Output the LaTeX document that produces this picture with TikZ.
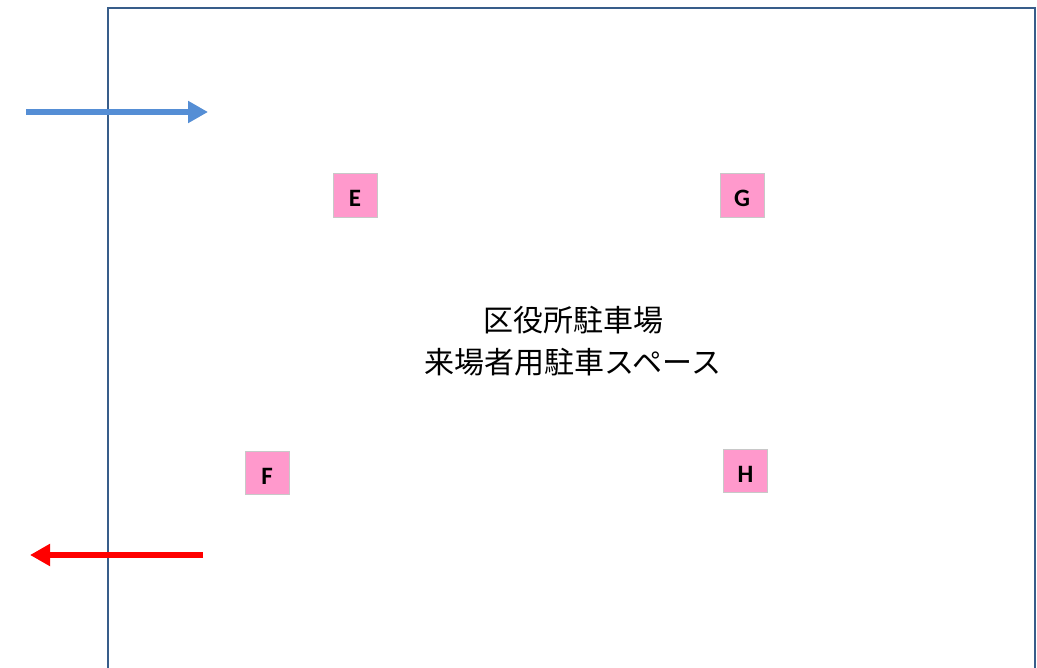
\documentclass[tikz,border=0pt]{standalone}
\usepackage{fontspec}
\setmainfont{Carlito}
\newfontfamily\cjk{Noto Sans CJK JP}
\usetikzlibrary{arrows.meta}
\definecolor{frameblue}{RGB}{56,93,138}
\definecolor{arrowblue}{RGB}{85,142,213}
\definecolor{markpink}{RGB}{255,153,204}
\definecolor{markgray}{RGB}{200,200,200}
\tikzset{
  marker/.style={draw=markgray, line width=1bp, fill=markpink, minimum width=44bp, minimum height=43bp, inner sep=0pt, text height=22bp, text depth=0bp, font=\fontsize{25bp}{28bp}\selectfont\bfseries},
  flow/.style={line width=6.5bp, -{Triangle[length=20bp,width=21bp]}}
}
\begin{document}
\begin{tikzpicture}[x=1bp,y=-1bp]
\useasboundingbox (0,0) rectangle (1037,668);
\fill[white] (0,0) rectangle (1037,668);
% lot outline
\coordinate (bl) at (108,672);
\coordinate (tl) at (108,8);
\coordinate (tr) at (1035,8);
\coordinate (br) at (1035,672);
\draw[frameblue, line width=2.5bp] (bl) -- (tl) -- (tr) -- (br);
% title
\node[font=\cjk\fontsize{30bp}{42bp}\selectfont, align=center] (title) at (573,341) {区役所駐車場\\来場者用駐車スペース};
% markers
\node[marker] (E) at (355,195.5) {E};
\node[marker] (F) at (267,473) {F};
\node[marker] (G) at (742,195.5) {G};
\node[marker] (H) at (745.5,471) {H};
% arrows
\coordinate (inS) at (26,112);
\coordinate (inE) at (208,112);
\coordinate (outS) at (203,555);
\coordinate (outE) at (30,555);
\draw[flow, arrowblue] (inS) -- (inE);
\draw[flow, red] (outS) -- (outE);
\end{tikzpicture}
\end{document}
